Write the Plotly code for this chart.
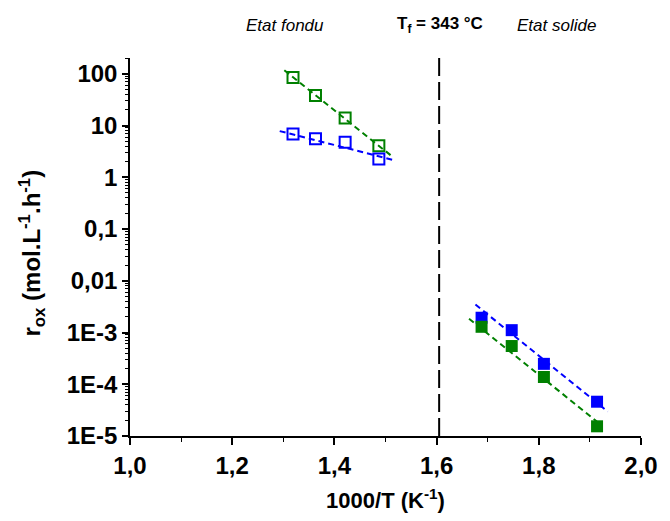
import plotly.graph_objects as go

# ---- data ----
# molten state (open squares)
x_fondu = [1.319, 1.363, 1.421, 1.487]
y_fondu_green = [85, 38, 14, 4.05]
y_fondu_blue = [6.86, 5.57, 4.75, 2.25]

# solid state (filled squares)
x_solide = [1.688, 1.747, 1.810, 1.914]
y_solide_blue = [1.93e-3, 1.11e-3, 2.48e-4, 4.6e-5]
y_solide_green = [1.29e-3, 5.48e-4, 1.38e-4, 1.54e-5]

# fitted (dashed) lines, endpoints
fit_fondu_green_x = [1.302, 1.513]
fit_fondu_green_y = [117, 2.53]
fit_fondu_blue_x = [1.293, 1.513]
fit_fondu_blue_y = [7.8, 2.19]
fit_solide_blue_x = [1.676, 1.935]
fit_solide_blue_y = [3.47e-3, 2.97e-5]
fit_solide_green_x = [1.6635, 1.9135]
fit_solide_green_y = [1.85e-3, 1.91e-5]

# melting point line 1000/T
tf_inv = 1.605

y_tickvals = [100, 10, 1, 0.1, 0.01, 1e-3, 1e-4, 1e-5]
y_ticktext = ["100", "10", "1", "0,1", "0,01", "1E-3", "1E-4", "1E-5"]
x_tickvals = [1.0, 1.2, 1.4, 1.6, 1.8, 2.0]
x_ticktext = ["1,0", "1,2", "1,4", "1,6", "1,8", "2,0"]

BLUE = "#0000FF"
GREEN = "#008000"
FONT = "Liberation Sans"

fig = go.Figure()

def dline(x, y, color):
    fig.add_trace(go.Scatter(x=x, y=y, mode="lines",
                             line=dict(color=color, width=2, dash="6px,4px"),
                             showlegend=False, hoverinfo="skip"))

dline(fit_fondu_green_x, fit_fondu_green_y, GREEN)
dline(fit_fondu_blue_x, fit_fondu_blue_y, BLUE)
dline(fit_solide_blue_x, fit_solide_blue_y, BLUE)
dline(fit_solide_green_x, fit_solide_green_y, GREEN)

fig.add_trace(go.Scatter(x=x_fondu, y=y_fondu_green, mode="markers",
                         marker=dict(symbol="square-open", size=11, color=GREEN,
                                     line=dict(width=2, color=GREEN)),
                         showlegend=False))
fig.add_trace(go.Scatter(x=x_fondu, y=y_fondu_blue, mode="markers",
                         marker=dict(symbol="square-open", size=11, color=BLUE,
                                     line=dict(width=2, color=BLUE)),
                         showlegend=False))
fig.add_trace(go.Scatter(x=x_solide, y=y_solide_blue, mode="markers",
                         marker=dict(symbol="square", size=12, color=BLUE,
                                     line=dict(width=0)),
                         showlegend=False))
fig.add_trace(go.Scatter(x=x_solide, y=y_solide_green, mode="markers",
                         marker=dict(symbol="square", size=12, color=GREEN,
                                     line=dict(width=0)),
                         showlegend=False))

# melting point vertical line
fig.add_trace(go.Scatter(x=[tf_inv, tf_inv], y=[1e-5, 10 ** 2.305], mode="lines",
                         line=dict(color="black", width=2, dash="18px,6px"),
                         showlegend=False, hoverinfo="skip"))

minor_y = [m * 10 ** k for k in range(-5, 3) for m in range(2, 10)]

fig.update_layout(
    width=670, height=521,
    margin=dict(l=130, r=19, t=58, b=81),
    plot_bgcolor="white", paper_bgcolor="white",
    font=dict(family=FONT, color="black"),
    hovermode=False,
    xaxis=dict(
        range=[1.0, 2.0], showgrid=False, zeroline=False,
        showline=True, linecolor="black", linewidth=1.5,
        tickmode="array", tickvals=x_tickvals, ticktext=x_ticktext,
        ticks="outside", ticklen=7, tickwidth=1.5, tickcolor="black",
        ticklabeloverflow="allow",
        tickfont=dict(family=FONT, size=24, weight="bold", color="black"),
        minor=dict(tickmode="array", tickvals=[1.1, 1.3, 1.5, 1.7, 1.9],
                   ticks="outside", ticklen=4, tickwidth=1, tickcolor="black",
                   showgrid=False),
        title=dict(text="1000/T (K<sup>-1</sup>)",
                   font=dict(family=FONT, size=22, weight="bold", color="black"),
                   standoff=15),
    ),
    yaxis=dict(
        type="log", range=[-5, 2.305], showgrid=False, zeroline=False,
        showline=True, linecolor="black", linewidth=1.5,
        tickmode="array", tickvals=y_tickvals, ticktext=y_ticktext,
        ticks="outside", ticklen=6, tickwidth=1.5, tickcolor="black",
        tickfont=dict(family=FONT, size=24, weight="bold", color="black"),
        minor=dict(tickmode="array", tickvals=minor_y,
                   ticks="outside", ticklen=3, tickwidth=1, tickcolor="black",
                   showgrid=False),
    ),
)

# y-axis title placed precisely
fig.add_annotation(x=-0.192, y=0.485, xref="paper", yref="paper",
                   xanchor="center", yanchor="middle", textangle=-90,
                   text="<b>r<sub>ox</sub> (mol.L<sup>-1</sup>.h<sup>-1</sup>)</b>",
                   showarrow=False, font=dict(family=FONT, size=24, color="black"))

fig.add_annotation(x=1.304, y=1.086, xref="x", yref="paper", text="<i>Etat fondu</i>",
                   xanchor="center", yanchor="middle",
                   showarrow=False, font=dict(family=FONT, size=17, color="black"))
fig.add_annotation(x=1.606, y=1.086, xref="x", yref="paper",
                   text="<b>T<sub>f</sub> = 343 °C</b>",
                   xanchor="center", yanchor="middle",
                   showarrow=False, font=dict(family=FONT, size=17, color="black"))
fig.add_annotation(x=1.835, y=1.086, xref="x", yref="paper", text="<i>Etat solide</i>",
                   xanchor="center", yanchor="middle",
                   showarrow=False, font=dict(family=FONT, size=17, color="black"))

fig.write_html("out.html",
               config={"displayModeBar": False},
               post_script="document.body.style.margin='0';document.body.style.overflow='hidden';")
